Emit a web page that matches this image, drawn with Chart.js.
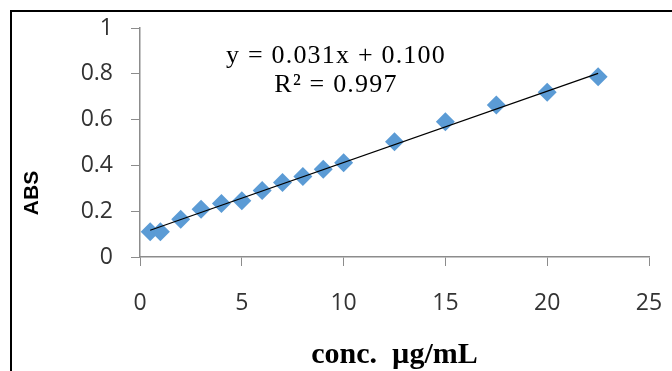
<!DOCTYPE html>
<html>
<head>
<meta charset="utf-8">
<script src="https://cdn.jsdelivr.net/npm/chart.js@4"></script>
<style>
    html, body { margin: 0; padding: 0; background: #fff; }
    #wrap { position: relative; width: 672px; height: 371px; }
    #frame {
        position: absolute; left: 10px; top: 10px; right: 0; bottom: 0;
        border-top: 2px solid #000; border-left: 2px solid #000;
        pointer-events: none;
    }
</style>
</head>
<body>
<div id="wrap">
    <canvas id="abs-plot" width="672" height="371"></canvas>
    <div id="frame"></div>
</div>
<script>
// concentration (µg/mL) and measured absorbance
const conc = [0.5, 1, 2, 3, 4, 5, 6, 7, 8, 9, 10, 12.5, 15, 17.5, 20, 22.5];
const abs = [0.110, 0.110, 0.165, 0.208, 0.234, 0.246, 0.290, 0.325, 0.351, 0.383, 0.412, 0.503, 0.591, 0.664, 0.719, 0.787];

// linear trendline ends, as drawn on the picture
const trendX = [0.5, 22.5];
const trendY = [0.117, 0.802];

const xTicks = [0, 5, 10, 15, 20, 25];
const xTickLabels = ['0', '5', '10', '15', '20', '25'];
const yTicks = [0, 0.2, 0.4, 0.6, 0.8, 1];
const yTickLabels = ['0', '0.2', '0.4', '0.6', '0.8', '1'];

const eqLines = ['y = 0.031x + 0.100', 'R² = 0.997'];
const xTitle = 'conc.  µg/mL';
const yTitle = 'ABS';

const axisGrey = '#8c8c8c';
const tickFont = { family: 'Open Sans', size: 23 };

// equation text and the rotated y title, drawn on top of the chart
const textPlugin = {
    id: 'textPlugin',
    afterDraw(chart) {
        const ctx = chart.ctx;
        const area = chart.chartArea;
        ctx.save();
        ctx.fillStyle = '#000';
        ctx.font = '26px "Liberation Serif"';
        ctx.textAlign = 'center';
        ctx.textBaseline = 'alphabetic';
        ctx.letterSpacing = '1.2px';
        const cx = area.left + 196;
        ctx.fillText(eqLines[0], cx, area.top + 35);
        ctx.fillText(eqLines[1], cx, area.top + 64);
        ctx.restore();

        ctx.save();
        ctx.fillStyle = '#000';
        ctx.font = 'bold 21px "Liberation Sans"';
        ctx.textAlign = 'center';
        ctx.textBaseline = 'middle';
        ctx.translate(32, 193);
        ctx.rotate(-Math.PI / 2);
        ctx.fillText(yTitle, 0, 0);
        ctx.restore();
    }
};

const ctx = document.getElementById('abs-plot').getContext('2d');

new Chart(ctx, {
    type: 'scatter',
    data: {
        datasets: [{
            type: 'line',
            label: 'trend',
            data: trendX.map((x, i) => ({ x: x, y: trendY[i] })),
            borderColor: '#000',
            borderWidth: 1.2,
            pointRadius: 0,
            fill: false
        }, {
            label: 'ABS',
            data: conc.map((x, i) => ({ x: x, y: abs[i] })),
            pointStyle: 'rectRot',
            pointRadius: 9.5,
            pointHoverRadius: 9.5,
            backgroundColor: '#5b9bd5',
            borderColor: '#5b9bd5',
            borderWidth: 0
        }]
    },
    options: {
        responsive: false,
        animation: false,
        layout: { padding: { top: 28, right: 23, bottom: 0, left: 0 } },
        plugins: {
            legend: { display: false },
            tooltip: { enabled: false }
        },
        scales: {
            x: {
                type: 'linear',
                min: 0,
                max: 25,
                afterBuildTicks: (scale) => { scale.ticks = xTicks.map(v => ({ value: v })); },
                afterFit: (scale) => {
                    scale.height = 114;
                    scale.paddingLeft = 0;
                    scale.paddingRight = 0;
                },
                ticks: {
                    callback: (v) => xTickLabels[xTicks.indexOf(v)],
                    font: tickFont,
                    color: '#333',
                    padding: 24,
                    maxRotation: 0
                },
                grid: { drawOnChartArea: false, drawTicks: true, tickLength: 9, color: axisGrey },
                border: { display: true, color: axisGrey, width: 1.5 },
                title: {
                    display: true,
                    text: xTitle,
                    font: { family: 'Liberation Serif', size: 30, weight: 'bold' },
                    color: '#000',
                    padding: { top: 0, bottom: -2 }
                }
            },
            y: {
                min: 0,
                max: 1,
                afterBuildTicks: (scale) => { scale.ticks = yTicks.map(v => ({ value: v })); },
                afterFit: (scale) => {
                    scale.width = 140;
                    scale.paddingTop = 0;
                    scale.paddingBottom = 0;
                },
                ticks: {
                    callback: (v) => yTickLabels[yTicks.indexOf(v)],
                    font: tickFont,
                    color: '#333',
                    padding: 18
                },
                grid: { drawOnChartArea: false, drawTicks: true, tickLength: 9, color: axisGrey },
                border: { display: true, color: axisGrey, width: 1.5 }
            }
        }
    },
    plugins: [textPlugin]
});
</script>
</body>
</html>
